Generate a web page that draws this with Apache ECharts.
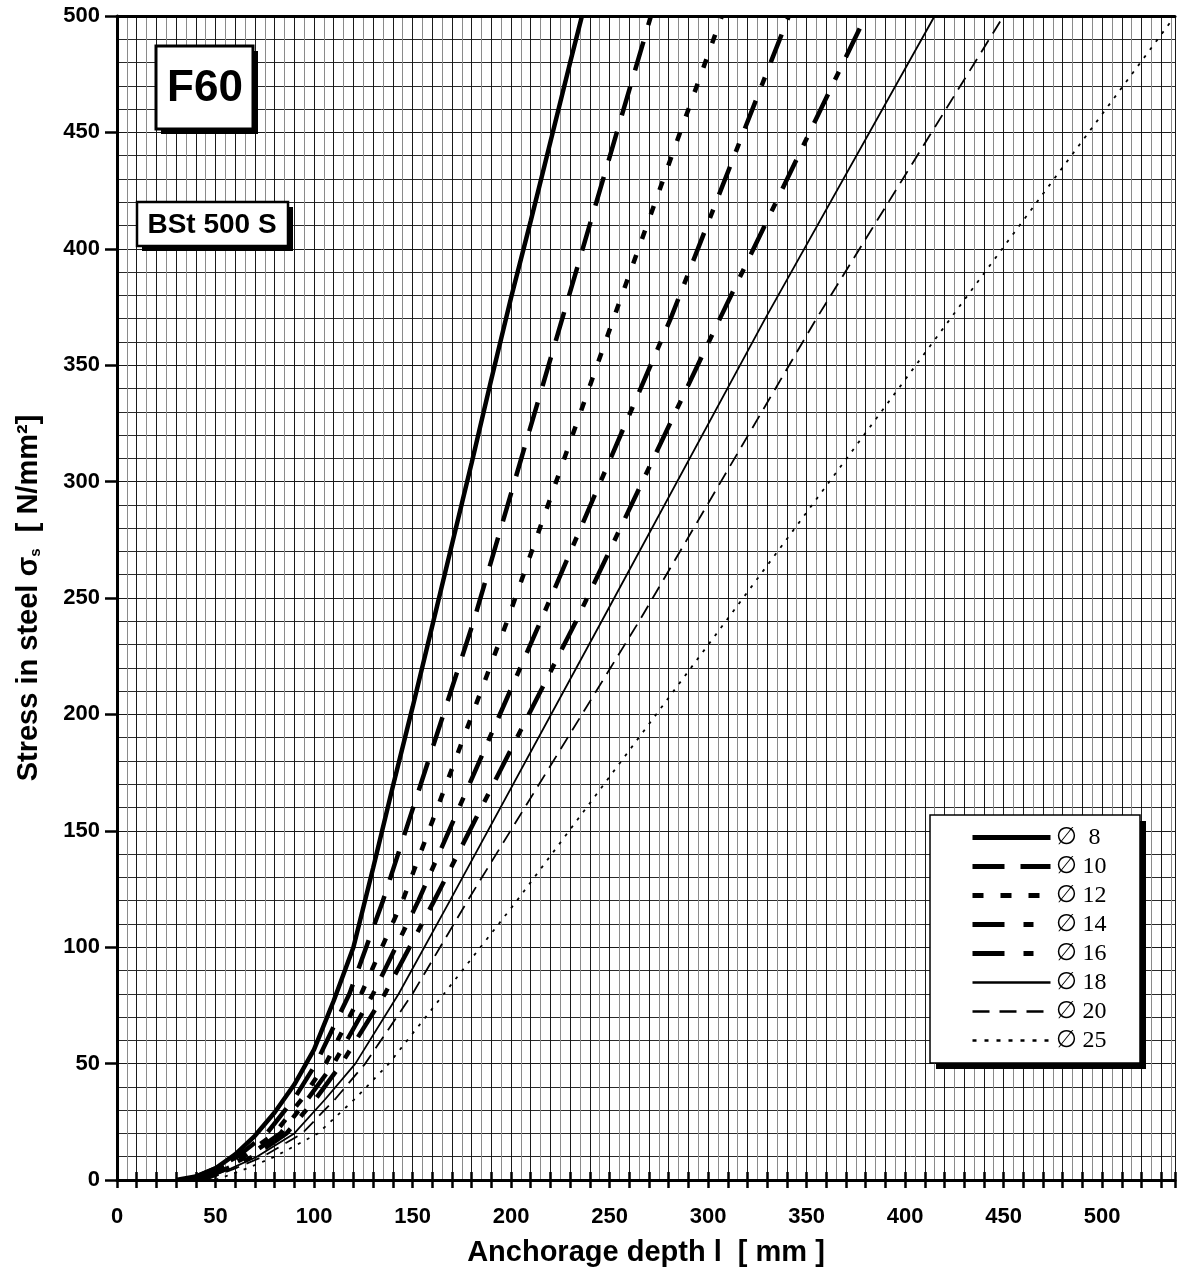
<!DOCTYPE html>
<html>
<head>
<meta charset="utf-8">
<script src="https://cdn.jsdelivr.net/npm/echarts@6/dist/echarts.min.js"></script>
<style>
  html, body { margin: 0; padding: 0; background: #fff; }
  #main { width: 1178px; height: 1281px; }
</style>
</head>
<body>
<div id="main"></div>
<script>
// values: anchorage depth (mm) at a given steel stress (N/mm2)
var seriesNames = ['∅  8', '∅ 10', '∅ 12', '∅ 14', '∅ 16', '∅ 18', '∅ 20', '∅ 25'];

var depth8 = [30, 40, 50, 60, 70, 80, 90, 100, 110, 120, 130, 140, 150, 160, 170, 180, 190, 200, 210, 220, 230, 236];
var stress8 = [0, 1.5, 5, 11, 19, 29, 41, 56, 77, 100, 134, 169, 203, 238, 273, 308, 344, 379, 412, 446, 480, 500];

var stressLevels = [0, 5, 10, 20, 35, 50, 80, 120, 240, 370, 500];
var depth10 = [36, 50, 61, 76, 90, 101, 118, 135, 181, 226, 271];
var depth12 = [38, 52, 64, 80, 94, 106, 124, 145, 198, 252, 307];
var depth14 = [40, 54, 66, 83, 97, 110, 130, 153, 215, 281, 341];
var depth16 = [42, 56, 69, 86, 101, 114, 136, 161, 233, 306, 380];
var depth18 = [43, 58, 71, 90, 106, 121, 143, 169, 246, 329, 415];
var depth20 = [45, 60, 74, 94, 111, 126, 150, 178, 265, 355, 450];
var depth25 = [50, 66, 80, 102, 121, 138, 166, 203, 309, 423, 537];

var xTickLabels = [0, 50, 100, 150, 200, 250, 300, 350, 400, 450, 500];

function pairs(xs, ys) {
  return xs.map(function (x, i) { return [x, ys[i]]; });
}

var curves = [
  pairs(depth8, stress8),
  pairs(depth10, stressLevels),
  pairs(depth12, stressLevels),
  pairs(depth14, stressLevels),
  pairs(depth16, stressLevels),
  pairs(depth18, stressLevels),
  pairs(depth20, stressLevels),
  pairs(depth25, stressLevels)
];

var lineStyles = [
  { width: 4.5, type: 'solid' },
  { width: 4.5, type: [30, 17] },
  { width: 4.5, type: [9, 17] },
  { width: 4.5, type: [30, 16, 9, 16] },
  { width: 4.5, type: [32, 16, 9, 16] },
  { width: 1.8, type: 'solid' },
  { width: 1.8, type: [14, 8] },
  { width: 1.8, type: [3, 7] }
];

// the legend samples are a little different from the plotted dashes
var legendDash = ['solid', [32, 16], [11, 17], [32, 19, 10, 60], [32, 19, 10, 60], 'solid', [17, 10], [4, 8]];

var chart = echarts.init(document.getElementById('main'));

var axisFont = { fontFamily: 'Liberation Sans, Arial, sans-serif', fontWeight: 'bold', color: '#000' };

chart.setOption({
  animation: false,
  backgroundColor: '#fff',
  grid: { left: 117, right: 2, top: 16, bottom: 101 },
  legend: {
    data: seriesNames.map(function (name, i) {
      return { name: name, lineStyle: { width: lineStyles[i].width + 0.5, type: legendDash[i] } };
    }),
    orient: 'vertical',
    left: 930,
    top: 815,
    z: 20,
    itemWidth: 78,
    itemHeight: 14,
    itemGap: 4,
    padding: [10, 33, 9, 40],
    itemStyle: { opacity: 0, color: 'rgba(0,0,0,0)', borderWidth: 0 },
    textStyle: { fontFamily: 'Liberation Serif, Times New Roman, serif', fontSize: 24, lineHeight: 25, color: '#000' }
  },
  xAxis: [
    {
      type: 'value', min: 0, max: 537, interval: 10,
      name: 'Anchorage depth l  [ mm ]',
      nameLocation: 'middle', nameGap: 58,
      nameTextStyle: Object.assign({ fontSize: 29 }, axisFont),
      axisLine: { lineStyle: { color: '#000', width: 3 } },
      axisTick: { show: true, length: 8, lineStyle: { color: '#000', width: 2.5 } },
      axisLabel: Object.assign({
        fontSize: 22, margin: 26,
        formatter: function (v) { return xTickLabels.indexOf(v) >= 0 ? String(v) : ''; }
      }, axisFont),
      splitLine: { show: true, lineStyle: { color: '#1a1a1a', width: 1 } },
      minorTick: { show: false, splitNumber: 2 },
      minorSplitLine: { show: true, lineStyle: { color: '#8a8a8a', width: 1 } }
    },
    {
      type: 'value', min: 0, max: 537, interval: 10, position: 'bottom',
      axisLine: { show: false },
      axisTick: { show: true, inside: true, length: 8, lineStyle: { color: '#000', width: 2.5 } },
      axisLabel: { show: false },
      splitLine: { show: false }
    },
    {
      type: 'value', min: 0, max: 537, position: 'top',
      axisLine: { show: true, lineStyle: { color: '#000', width: 3 } },
      axisTick: { show: false },
      axisLabel: { show: false },
      splitLine: { show: false }
    }
  ],
  yAxis: {
    type: 'value', min: 0, max: 500, interval: 50,
    name: '{a|Stress in steel σ}{b|s}{a|  [ N/mm²]}',
    nameLocation: 'middle', nameGap: 74,
    nameTextStyle: {
      rich: {
        a: Object.assign({ fontSize: 29 }, axisFont),
        b: Object.assign({ fontSize: 15, verticalAlign: 'bottom', padding: [12, 0, 0, 0] }, axisFont)
      }
    },
    axisLine: { show: true, lineStyle: { color: '#000', width: 3 } },
    axisTick: { show: true, length: 12, lineStyle: { color: '#000', width: 2.5 } },
    axisLabel: Object.assign({ fontSize: 22, margin: 17 }, axisFont),
    splitLine: { show: true, lineStyle: { color: '#1a1a1a', width: 1 } },
    minorTick: { show: false, splitNumber: 5 },
    minorSplitLine: { show: true, lineStyle: { color: '#2a2a2a', width: 1 } }
  },
  graphic: [
    { type: 'rect', shape: { x: 161, y: 51, width: 97, height: 83 }, style: { fill: '#000' }, z: 100 },
    { type: 'rect', shape: { x: 156, y: 46, width: 97, height: 83 }, style: { fill: '#fff', stroke: '#000', lineWidth: 3 }, z: 101 },
    { type: 'text', x: 205, y: 89, style: { text: 'F60', fill: '#000', font: 'bold 44px "Liberation Sans", Arial, sans-serif', align: 'center', verticalAlign: 'middle' }, z: 102 },
    { type: 'rect', shape: { x: 142, y: 207, width: 151, height: 44 }, style: { fill: '#000' }, z: 100 },
    { type: 'rect', shape: { x: 137, y: 202, width: 151, height: 44 }, style: { fill: '#fff', stroke: '#000', lineWidth: 2.5 }, z: 101 },
    { type: 'text', x: 212, y: 225, style: { text: 'BSt 500 S', fill: '#000', font: 'bold 28px "Liberation Sans", Arial, sans-serif', align: 'center', verticalAlign: 'middle' }, z: 102 },
    // legend frame with its offset shadow
    { type: 'rect', shape: { x: 936, y: 821, width: 210, height: 248 }, style: { fill: '#000' }, z: 6 },
    { type: 'rect', shape: { x: 930, y: 815, width: 210, height: 248 }, style: { fill: '#fff', stroke: '#000', lineWidth: 1.5 }, z: 7 }
  ],
  series: seriesNames.map(function (name, i) {
    return {
      name: name,
      type: 'line',
      xAxisIndex: 0,
      data: curves[i],
      symbol: 'none',
      smooth: false,
      clip: true,
      lineStyle: Object.assign({ color: '#000' }, lineStyles[i]),
      itemStyle: { color: '#000' },
      z: 5
    };
  })
});
</script>
</body>
</html>
